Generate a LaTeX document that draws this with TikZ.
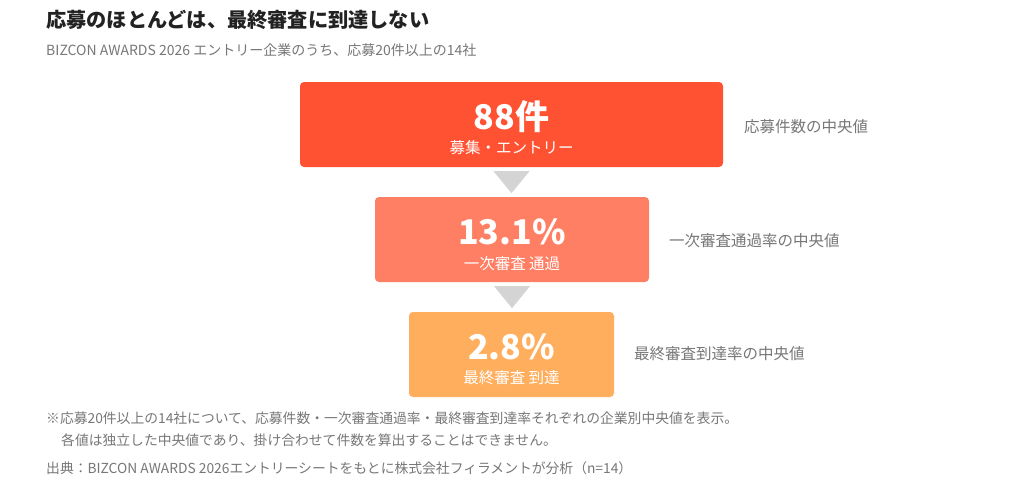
\documentclass[tikz,border=0pt]{standalone}
\usepackage{fontspec}
\setmainfont{Noto Sans CJK JP}
\usetikzlibrary{calc, positioning}

\definecolor{stepone}{HTML}{FF5233}
\definecolor{steptwo}{HTML}{FF7F64}
\definecolor{stepthree}{HTML}{FFAE5E}
\definecolor{arrowgray}{HTML}{D4D4D4}
\definecolor{titleink}{HTML}{222222}
\definecolor{noteink}{HTML}{777777}

\tikzset{
  funnelbox/.style={rounded corners=4pt, minimum height=85pt, inner sep=0pt},
  bignum/.style={text=white, font=\fontsize{34}{34}\selectfont\bfseries, inner sep=0pt},
  boxlabel/.style={text=white, font=\fontsize{15.5}{16}\selectfont, inner sep=0pt},
  sidelabel/.style={text=noteink, font=\fontsize{15.5}{16}\selectfont, anchor=west, inner sep=0pt},
  note/.style={text=noteink, font=\fontsize{13.8}{14}\selectfont, anchor=west, inner sep=0pt}
}

\begin{document}
\begin{tikzpicture}[x=1pt, y=-1pt]
\useasboundingbox[fill=white] (0,0) rectangle (1024,487);

% title
\node[anchor=west, inner sep=0pt, text=titleink, font=\fontsize{20.2}{20}\selectfont\bfseries] (title) at (46,20) {応募のほとんどは、最終審査に到達しない};
\node[anchor=west, inner sep=0pt, text=noteink, font=\fontsize{14}{15}\selectfont] (subtitle) at (46,50) {BIZCON AWARDS 2026 エントリー企業のうち、応募20件以上の14社};

% funnel
\node[funnelbox, fill=stepone, minimum width=423pt] (entry) at (511.5,124.5) {};
\node[funnelbox, fill=steptwo, minimum width=274pt] (first) at (512,239.5) {};
\node[funnelbox, fill=stepthree, minimum width=205pt] (final) at (511.5,354.5) {};

\node[bignum] (entry-num) at ($(entry.center)+(0,-8)$) {88件};
\node[boxlabel] (entry-lbl) at ($(entry.center)+(0,23)$) {募集・エントリー};
\node[bignum] (first-num) at ($(first.center)+(0,-8)$) {13.1\%};
\node[boxlabel] (first-lbl) at ($(first.center)+(0,24)$) {一次審査 通過};
\node[bignum] (final-num) at ($(final.center)+(0,-8)$) {2.8\%};
\node[boxlabel] (final-lbl) at ($(final.center)+(0,23)$) {最終審査 到達};

% down markers
\foreach \a/\b in {entry/first, first/final}{
  \fill[arrowgray] ($(\a.south)+(-18,4)$) -- ($(\a.south)+(18,4)$) -- ($(\a.south)+(0,26)$) -- cycle;
};

% side labels
\node[sidelabel] (entry-side) at (744,127) {応募件数の中央値};
\node[sidelabel] (first-side) at (669,241) {一次審査通過率の中央値};
\node[sidelabel] (final-side) at (634,354) {最終審査到達率の中央値};

% notes
\node[note] (note-a) at (46,418) {※応募20件以上の14社について、応募件数・一次審査通過率・最終審査到達率それぞれの企業別中央値を表示。};
\node[note] (note-b) at (61,440) {各値は独立した中央値であり、掛け合わせて件数を算出することはできません。};
\node[note] (source) at (46,468) {出典：BIZCON AWARDS 2026エントリーシートをもとに株式会社フィラメントが分析（n=14）};
\end{tikzpicture}
\end{document}
